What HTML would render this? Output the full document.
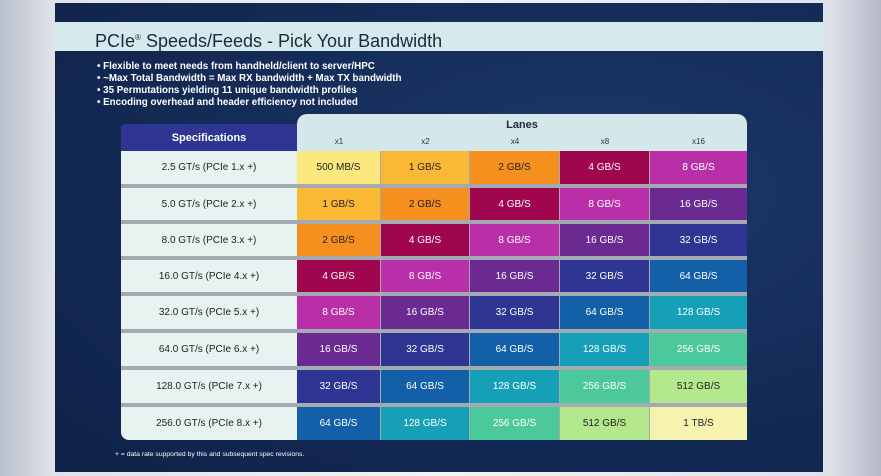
<!DOCTYPE html>
<html><head><meta charset="utf-8"><style>
*{margin:0;padding:0;box-sizing:border-box}
body{width:881px;height:476px;overflow:hidden;font-family:"Liberation Sans",sans-serif;background:linear-gradient(90deg,#b9bfcc 0%,#dfe2e9 6%,#f3f4f7 50%,#dfe2e9 94%,#b3b9c7 100%);position:relative}
#panel{position:absolute;left:55px;top:3px;width:768px;height:469px;background:radial-gradient(ellipse at 70% 40%,#1e3a6a 0%,#142c58 50%,#0f2148 100%)}
#title{position:absolute;left:55px;top:22px;width:768px;height:29px;background:#d6e9ed;color:#1d2a3c;font-size:18px;padding-left:40px;line-height:31px}
#bul{position:absolute;left:97px;top:61px;color:#fff;font-weight:bold;font-size:9.8px;line-height:12px}
#lanes{position:absolute;left:297px;top:114px;width:450px;height:40px;background:#d4e8ec;border-radius:10px 10px 0 0}
#spechd{position:absolute;left:121px;top:124px;width:176px;height:28px;background:#2e3592;color:#fff;font-weight:bold;font-size:11px;text-align:center;line-height:28px;border-radius:4px 0 4px 4px}
#specbg{position:absolute;left:121px;top:151px;width:626px;height:289px;background:#a3aab2;border-bottom-left-radius:8px;overflow:hidden}
.c{position:absolute;text-align:center;font-size:10px;display:flex;align-items:center;justify-content:center}
.s{background:#e8f3f1;color:#222}
.h{position:absolute;font-size:8px;color:#333;top:137px;text-align:center}
#foot{position:absolute;left:115px;top:451px;color:#fff;font-size:6.8px}
</style></head><body>
<div id="panel"></div>
<div id="title">PCIe<sup style="font-size:8px">®</sup> Speeds/Feeds - Pick Your Bandwidth</div>
<div id="bul">• Flexible to meet needs from handheld/client to server/HPC<br>• ~Max Total Bandwidth = Max RX bandwidth + Max TX bandwidth<br>• 35 Permutations yielding 11 unique bandwidth profiles<br>• Encoding overhead and header efficiency not included</div>
<div id="lanes"></div>
<div style="position:absolute;left:297px;top:119px;width:450px;text-align:center;font-weight:bold;font-size:11px;color:#1d2a3c">Lanes</div>
<div id="spechd">Specifications</div>
<div id="specbg"></div>
<div id="cells"></div>
<div id="foot">+ = data rate supported by this and subsequent spec revisions.</div>
<script>
var cols=[297,381,470,560,650,747],tops=[151,188,224,260,296,333,370,407],bot=440;
var lab=["x1","x2","x4","x8","x16"];
var vals=["500 MB/S","1 GB/S","2 GB/S","4 GB/S","8 GB/S","16 GB/S","32 GB/S","64 GB/S","128 GB/S","256 GB/S","512 GB/S","1 TB/S"];
var bg=["#fbe97f","#f9b934","#f5901e","#a0064e","#b92fa8","#6a2a92","#2e3592","#1460a8","#15a0b8","#4dc89a","#b4e88c","#f5f3ae"];
var fg=["#222","#222","#222","#fff","#fff","#fff","#fff","#fff","#fff","#fff","#222","#222"];
var specs=["2.5 GT/s (PCIe 1.x +)","5.0 GT/s (PCIe 2.x +)","8.0 GT/s (PCIe 3.x +)","16.0 GT/s (PCIe 4.x +)","32.0 GT/s (PCIe 5.x +)","64.0 GT/s (PCIe 6.x +)","128.0 GT/s (PCIe 7.x +)","256.0 GT/s (PCIe 8.x +)"];
var h="";
for(var j=0;j<5;j++)h+='<div class="h" style="left:'+cols[j]+'px;width:'+(cols[j+1]-cols[j])+'px">'+lab[j]+'</div>';
for(var i=0;i<8;i++){var t=tops[i],b=(i<7?tops[i+1]-4:bot),hh=b-t;
h+='<div class="c s" style="left:121px;top:'+t+'px;width:176px;height:'+hh+'px;'+(i==7?'border-bottom-left-radius:8px;':'')+'">'+specs[i]+'</div>';
for(var j=0;j<5;j++){var k=i+j;h+='<div class="c" style="left:'+cols[j]+'px;top:'+t+'px;width:'+(cols[j+1]-cols[j]-(j<4?1:0))+'px;height:'+hh+'px;background:'+bg[k]+';color:'+fg[k]+'">'+vals[k]+'</div>';}}
document.getElementById('cells').innerHTML=h;
</script>
</body></html>
